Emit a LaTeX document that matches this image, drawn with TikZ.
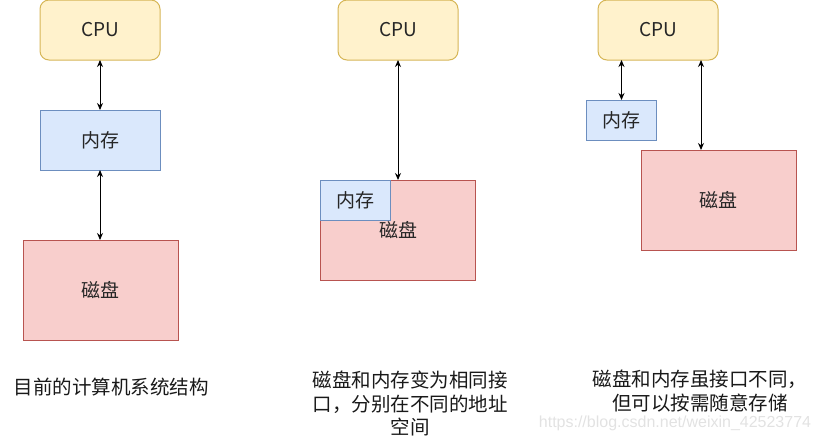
\documentclass[tikz,border=0pt]{standalone}
\usepackage{fontspec}
\setmainfont{Noto Sans CJK SC}
\newfontfamily\wmfont{Liberation Sans}
\usetikzlibrary{arrows.meta}
\definecolor{cpufill}{HTML}{FFF2CC}
\definecolor{cpuline}{HTML}{D6B656}
\definecolor{memfill}{HTML}{DAE8FC}
\definecolor{memline}{HTML}{6C8EBF}
\definecolor{diskfill}{HTML}{F8CECC}
\definecolor{diskline}{HTML}{B85450}
\definecolor{wmgray}{HTML}{E2E2E2}
\tikzset{
  boxbase/.style={rectangle, inner sep=0pt, outer sep=0pt, line width=1pt,
    font=\fontsize{19}{22}\selectfont, text=black!85},
  cpubox/.style={boxbase, draw=cpuline, fill=cpufill, rounded corners=9pt},
  membox/.style={boxbase, draw=memline, fill=memfill},
  diskbox/.style={boxbase, draw=diskline, fill=diskfill},
  link/.style={line width=1pt, {Stealth[length=7pt,width=6pt]}-{Stealth[length=7pt,width=6pt]}},
  caption/.style={align=center, inner sep=0pt, font=\fontsize{19.5}{23.5}\selectfont, text=black!90},
}
\begin{document}
\begin{tikzpicture}[x=1pt,y=-1pt]
\useasboundingbox (0,0) rectangle (821,442);
% panel 1
\node[cpubox, minimum width=120pt, minimum height=60pt] (cpu1) at (100,30) {CPU};
\node[membox, minimum width=120pt, minimum height=60pt] (mem1) at (100,140) {内存};
\node[diskbox, minimum width=155pt, minimum height=100pt] (disk1) at (100.5,290) {磁盘};
\draw[link] (cpu1.south) -- (mem1.north);
\draw[link] (mem1.south) -- (disk1.north -| mem1.south);
% panel 2
\node[cpubox, minimum width=120pt, minimum height=60pt] (cpu2) at (398,30) {CPU};
\node[diskbox, minimum width=155pt, minimum height=100pt] (disk2) at (398,230) {磁盘};
\node[membox, minimum width=70pt, minimum height=40pt] (mem2) at (355.5,200.5) {内存};
\draw[link] (cpu2.south) -- (disk2.north);
% panel 3
\node[cpubox, minimum width=120pt, minimum height=60pt] (cpu3) at (658,30) {CPU};
\node[membox, minimum width=70pt, minimum height=40pt] (mem3) at (621.5,120) {内存};
\node[diskbox, minimum width=155pt, minimum height=100pt] (disk3) at (718.5,200) {磁盘};
\coordinate (d3top) at (701,150);
\draw[link] (cpu3.south -| mem3.north) -- (mem3.north);
\draw[link] (cpu3.south -| d3top) -- (d3top);
% captions
\node[caption] (cap1) at (111,387) {目前的计算机系统结构};
\node[caption] (cap2) at (410,403.5) {磁盘和内存变为相同接\\口，分别在不同的地址\\空间};
\node[caption] (cap3) at (700,391) {磁盘和内存虽接口不同，\\但可以按需随意存储};
\node[inner sep=0pt, text=wmgray, font=\wmfont\fontsize{16}{18}\selectfont] (wm) at (675,423) {https://blog.csdn.net/weixin\_42523774};
\end{tikzpicture}
\end{document}
